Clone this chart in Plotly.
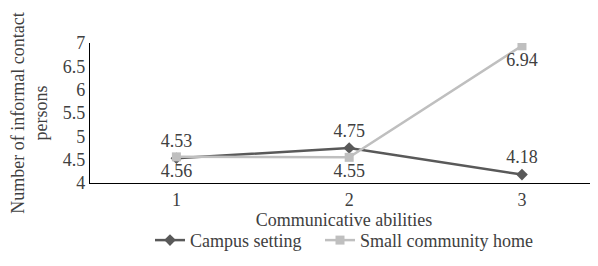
import plotly.graph_objects as go

categories = [1, 2, 3]
campus_values = [4.53, 4.75, 4.18]
small_home_values = [4.56, 4.55, 6.94]
y_ticks = [4, 4.5, 5, 5.5, 6, 6.5, 7]
y_tick_labels = ["4", "4.5", "5", "5.5", "6", "6.5", "7"]
series_names = ["Campus setting", "Small community home"]

FONT = "Liberation Serif, serif"
FS = 18
TXT = "#404040"

fig = go.Figure()
fig.add_trace(go.Scatter(
    x=categories, y=campus_values, name=series_names[0] + "\u00a0\u00a0\u00a0",
    mode="lines+markers+text",
    line=dict(color="#595959", width=2.5),
    marker=dict(symbol="diamond", size=9, color="#595959"),
    text=[f"{v:.2f}" for v in campus_values], textposition="top center",
    textfont=dict(family=FONT, size=FS, color=TXT),
))
fig.add_trace(go.Scatter(
    x=categories, y=small_home_values, name=series_names[1],
    mode="lines+markers+text",
    line=dict(color="#BFBFBF", width=2.5),
    marker=dict(symbol="square", size=9, color="#BFBFBF"),
    text=[f"{v:.2f}" for v in small_home_values], textposition="bottom center",
    textfont=dict(family=FONT, size=FS, color=TXT),
))

fig.update_layout(
    width=598, height=266,
    margin=dict(l=82, r=8, t=35, b=91, autoexpand=False),
    paper_bgcolor="white", plot_bgcolor="white",
    font=dict(family=FONT, size=FS, color=TXT),
    showlegend=True,
    legend=dict(orientation="h", x=0.5, xanchor="center", y=-0.41, yanchor="middle",
                font=dict(family=FONT, size=FS, color=TXT), itemwidth=30,
                tracegroupgap=0),
)
fig.update_xaxes(
    range=[0.5, 3.44], tickvals=categories, ticktext=[str(c) for c in categories],
    showline=True, linecolor="black", linewidth=1.2, showgrid=False, zeroline=False,
    ticks="", tickfont=dict(family=FONT, size=FS, color=TXT), automargin=False,
    title=dict(text="Communicative abilities", standoff=0,
               font=dict(family=FONT, size=FS, color=TXT)),
)
fig.update_yaxes(
    range=[4, 7], tickvals=y_ticks, ticktext=y_tick_labels,
    showline=True, linecolor="black", linewidth=1.2, showgrid=False, zeroline=False,
    ticks="", tickfont=dict(family=FONT, size=FS, color=TXT), automargin=False,
    title=dict(text="Number of informal contact<br>persons", standoff=14,
               font=dict(family=FONT, size=FS, color=TXT)),
)

fig.write_html("out.html")
